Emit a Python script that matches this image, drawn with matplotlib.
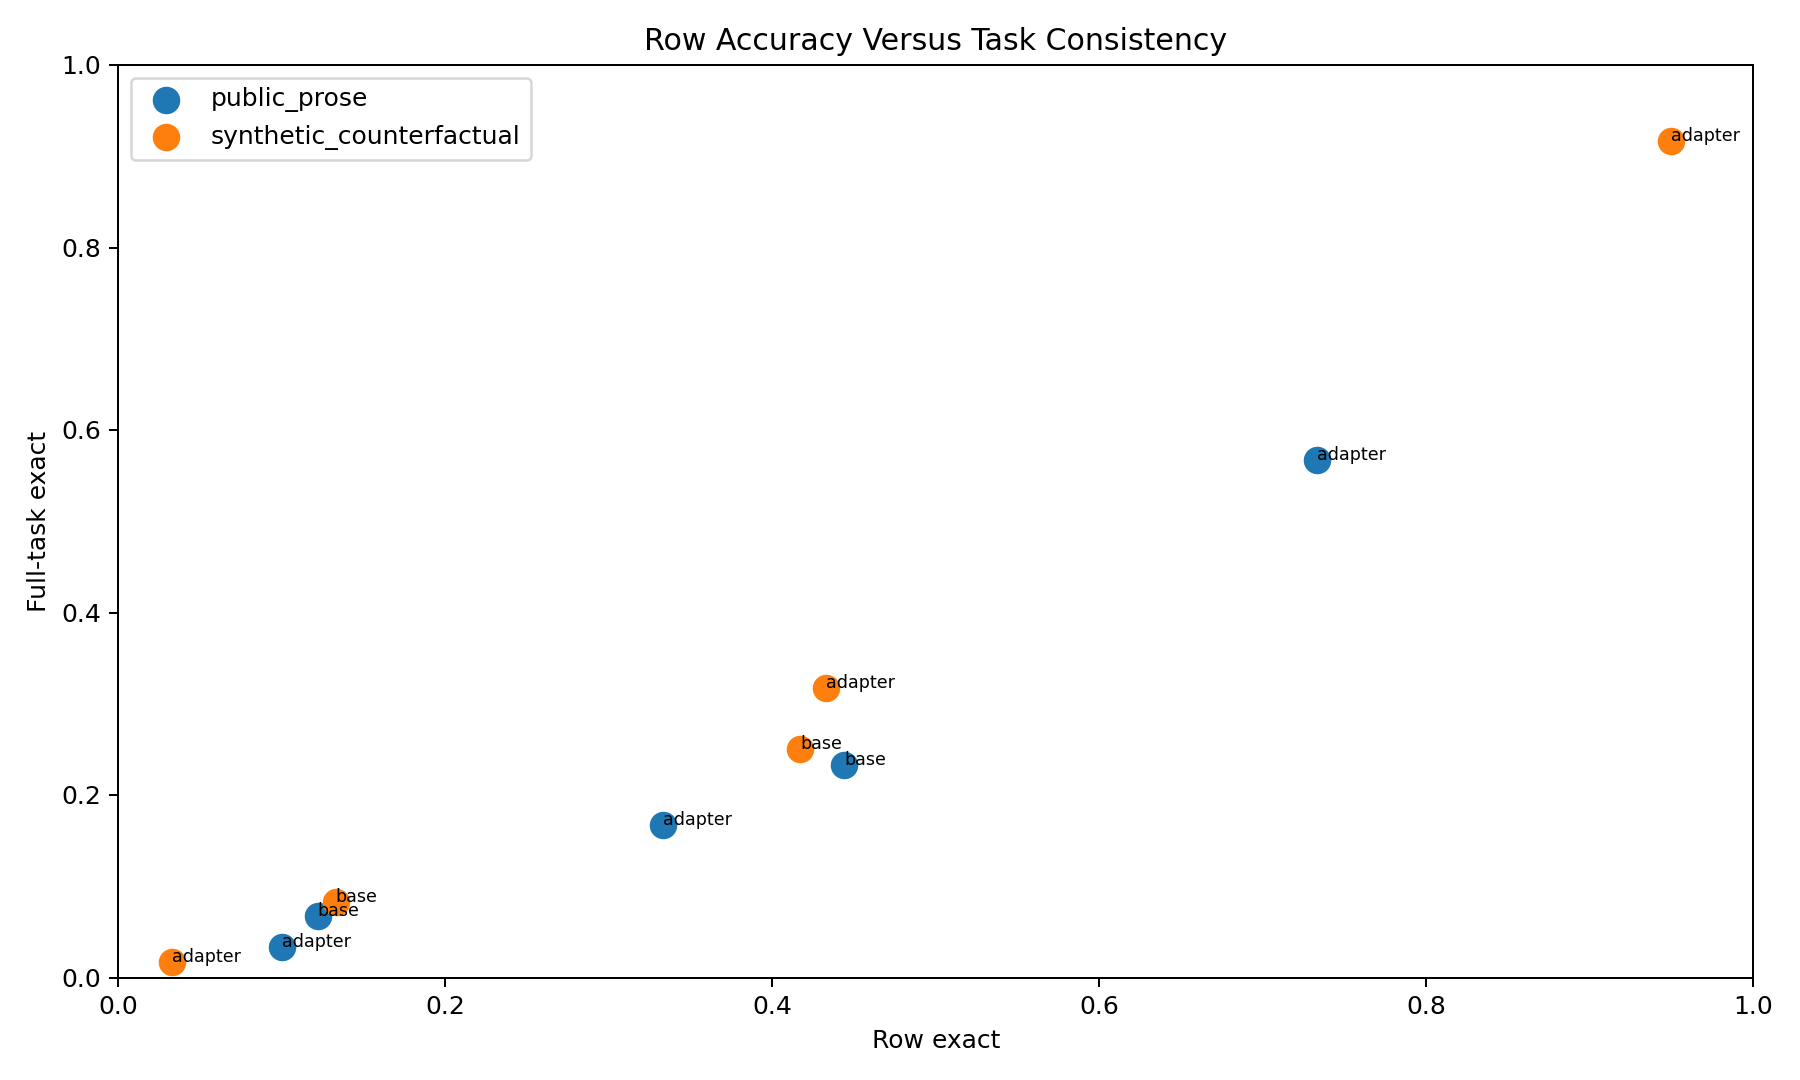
import matplotlib
matplotlib.use('Agg')
import matplotlib.pyplot as plt

# Row exact vs full-task exact, per split and model
public_x = [0.733, 0.444, 0.333, 0.122, 0.100]
public_y = [0.567, 0.233, 0.167, 0.067, 0.033]
public_labels = ['adapter', 'base', 'adapter', 'base', 'adapter']

synth_x = [0.950, 0.433, 0.417, 0.133, 0.033]
synth_y = [0.917, 0.317, 0.250, 0.083, 0.017]
synth_labels = ['adapter', 'adapter', 'base', 'base', 'adapter']

fig, ax = plt.subplots(figsize=(10, 6), dpi=180)

ax.scatter(public_x, public_y, s=100, color='#1f77b4', label='public_prose')
ax.scatter(synth_x, synth_y, s=100, color='#ff7f0e', label='synthetic_counterfactual')

for x, y, lab in zip(public_x, public_y, public_labels):
    ax.text(x, y, lab, fontsize=7)
for x, y, lab in zip(synth_x, synth_y, synth_labels):
    ax.text(x, y, lab, fontsize=7)

ax.set_xlim(0, 1)
ax.set_ylim(0, 1)
ax.set_xlabel('Row exact')
ax.set_ylabel('Full-task exact')
ax.set_title('Row Accuracy Versus Task Consistency')
ax.legend(loc='upper left')

fig.tight_layout()
fig.savefig('out.png')
